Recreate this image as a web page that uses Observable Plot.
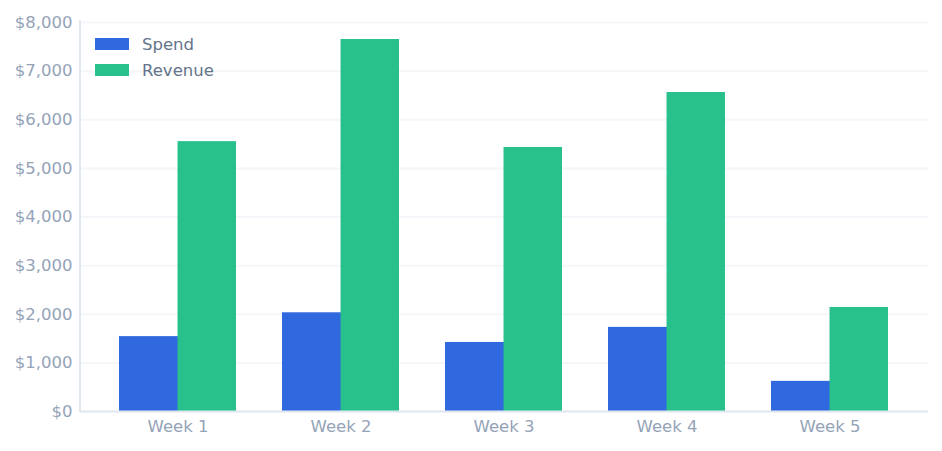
<!DOCTYPE html>
<html>
<head>
<meta charset="utf-8">
<script src="https://cdn.jsdelivr.net/npm/d3@7"></script>
<script src="https://cdn.jsdelivr.net/npm/@observablehq/plot@0.6"></script>
<style>
  html, body { margin: 0; padding: 0; background: #fff; }
  #wrap { position: relative; width: 942px; height: 451px; font-family: "DejaVu Sans", sans-serif; }
  #legend { position: absolute; left: 95px; top: 31px; font-size: 16.5px; color: #64748b; }
  .item { display: flex; align-items: center; height: 26px; }
  .sw { width: 34px; height: 12px; margin-right: 13px; }
</style>
</head>
<body>
<div id="wrap"><div id="legend"></div></div>
<script>
const weeks = ["Week 1", "Week 2", "Week 3", "Week 4", "Week 5"];
const seriesNames = ["Spend", "Revenue"];
const spend = [1540, 2030, 1420, 1730, 620];
const revenue = [5550, 7650, 5430, 6560, 2140];
const colors = ["#3068df", "#28c18c"];
const yTicks = [0, 1000, 2000, 3000, 4000, 5000, 6000, 7000, 8000];

const W = 942, H = 451, mL = 80, mR = 14, mT = 22, mB = 40;
const padInner = 0.282, padOuter = 0.242;
const step = (W - mL - mR) / (weeks.length - padInner + 2 * padOuter);
const bw = step * (1 - padInner);

const rows = weeks.map((w, i) => ({week: w, Spend: spend[i], Revenue: revenue[i]}));
const fmt = d => "$" + d3.format(",")(d);

const chart = Plot.plot({
  width: W, height: H,
  marginLeft: mL, marginRight: mR, marginTop: mT, marginBottom: mB,
  style: {fontFamily: "DejaVu Sans, sans-serif", fontSize: "16.5px", background: "#fff"},
  x: {domain: weeks, paddingInner: padInner, paddingOuter: padOuter, label: null},
  y: {domain: [0, 8000], label: null},
  marks: [
    Plot.gridY(yTicks, {stroke: "#f4f6f9", strokeOpacity: 1, strokeWidth: 2}),
    Plot.barY(rows, {x: "week", y: "Spend", fill: colors[0], insetLeft: 0, insetRight: bw / 2 - 0.6}),
    Plot.barY(rows, {x: "week", y: "Revenue", fill: colors[1], insetLeft: bw / 2, insetRight: 0}),
    Plot.ruleY([0], {stroke: "#e2e8f0", strokeWidth: 2}),
    Plot.axisY(yTicks, {tickSize: 0, tickPadding: 8, tickFormat: fmt, fill: "#94a3b8", fontSize: 16.5, label: null}),
    Plot.axisX({tickSize: 0, tickPadding: 9, fill: "#94a3b8", fontSize: 16.5, label: null})
  ]
});

// left axis line
const ys = chart.scale("y");
d3.select(chart).append("line")
  .attr("x1", mL).attr("x2", mL)
  .attr("y1", ys.range[1] - 2).attr("y2", ys.range[0] + 1)
  .attr("stroke", "#e2e8f0").attr("stroke-width", 2);

document.getElementById("wrap").prepend(chart);

const legend = d3.select("#legend");
seriesNames.forEach((s, i) => {
  const it = legend.append("div").attr("class", "item");
  it.append("div").attr("class", "sw").style("background", colors[i]);
  it.append("span").text(s);
});
</script>
</body>
</html>
